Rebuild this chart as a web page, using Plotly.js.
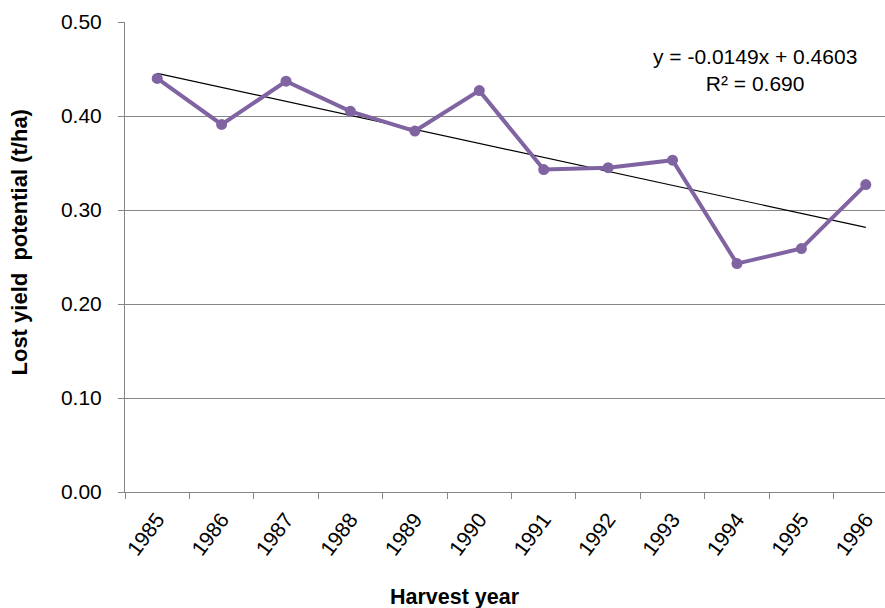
<!DOCTYPE html>
<html>
<head>
<meta charset="utf-8">
<script src="https://cdn.plot.ly/plotly-3.0.1.min.js"></script>
<style>
html,body{margin:0;padding:0;background:#fff;}
#chart{width:885px;height:608px;}
</style>
</head>
<body>
<div id="chart"></div>
<script>
const years = ["1985","1986","1987","1988","1989","1990","1991","1992","1993","1994","1995","1996"];
const lostYield = [0.440, 0.391, 0.437, 0.405, 0.384, 0.427, 0.343, 0.345, 0.353, 0.243, 0.259, 0.327];
const trendSlope = -0.0149;
const trendIntercept = 0.4603;
const trendR2 = "0.690";
const yTickVals = [0, 0.1, 0.2, 0.3, 0.4, 0.5];

const trendY = years.map((_, i) => trendSlope * (i + 1) + trendIntercept);

const FONT = "Liberation Sans, Arial, sans-serif";
const AXIS_COLOR = "#868686";

const traces = [
  {
    x: years, y: trendY, type: "scatter", mode: "lines",
    line: {color: "#000000", width: 1.2},
    hoverinfo: "skip", showlegend: false
  },
  {
    x: years, y: lostYield, type: "scatter", mode: "lines+markers",
    line: {color: "#8064A2", width: 4},
    marker: {color: "#8064A2", size: 11},
    showlegend: false
  }
];

const layout = {
  width: 885, height: 608,
  margin: {l: 125, r: 0, t: 22, b: 116},
  paper_bgcolor: "#ffffff", plot_bgcolor: "#ffffff",
  font: {family: FONT, color: "#000000", size: 21},
  showlegend: false,
  xaxis: {
    type: "category",
    range: [-0.5, 11.298],
    tickson: "boundaries",
    ticks: "outside", ticklen: 6, tickcolor: AXIS_COLOR, tickwidth: 1,
    showline: true, linecolor: AXIS_COLOR, linewidth: 1,
    showgrid: false, zeroline: false,
    tickangle: -53,
    ticklabelstandoff: 6,
    tickfont: {family: FONT, size: 21, color: "#000"},
    fixedrange: true
  },
  yaxis: {
    range: [0, 0.5],
    tickvals: yTickVals,
    tickformat: ".2f",
    ticks: "outside", ticklen: 6, tickcolor: AXIS_COLOR, tickwidth: 1,
    showline: true, linecolor: AXIS_COLOR, linewidth: 1,
    showgrid: true, gridcolor: AXIS_COLOR, gridwidth: 1,
    zeroline: false,
    ticklabelstandoff: 12,
    tickfont: {family: FONT, size: 21, color: "#000"},
    fixedrange: true
  },
  annotations: [
    {
      xref: "paper", yref: "paper", x: (19.5 - 125) / 760, y: (492 - 243) / 470,
      xanchor: "center", yanchor: "middle",
      text: "<b>Lost yield  potential (t/ha)</b>",
      textangle: -90, showarrow: false,
      font: {family: FONT, size: 22, color: "#000"}
    },
    {
      xref: "paper", yref: "paper", x: (455 - 125) / 760, y: -(597 - 492) / 470,
      xanchor: "center", yanchor: "middle",
      text: "<b>Harvest year</b>", showarrow: false,
      font: {family: FONT, size: 21.5, color: "#000"}
    },
    {
      xref: "paper", yref: "paper", x: (755 - 125) / 760, y: (492 - 70.5) / 470,
      xanchor: "center", yanchor: "middle", align: "center",
      text: "y = " + trendSlope.toFixed(4) + "x + " + trendIntercept.toFixed(4) + "<br>R² = " + trendR2,
      showarrow: false,
      font: {family: FONT, size: 21, color: "#000"}
    }
  ]
};

Plotly.newPlot("chart", traces, layout, {staticPlot: true, displayModeBar: false});
</script>
</body>
</html>
